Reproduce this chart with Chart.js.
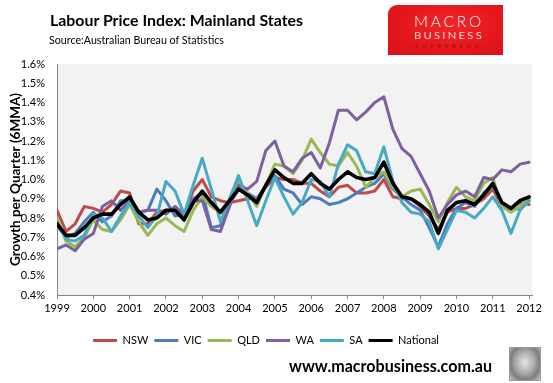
<!DOCTYPE html>
<html><head><meta charset="utf-8">
<script src="https://cdn.jsdelivr.net/npm/chart.js@4/dist/chart.umd.min.js"></script>
<style>
html,body{margin:0;padding:0;background:#fff;width:553px;height:383px;overflow:hidden;}
#wrap{position:relative;width:553px;height:383px;font-family:Lato,"Liberation Sans",sans-serif;}
#c{position:absolute;left:0;top:0;}
.fit{position:absolute;white-space:nowrap;line-height:1;transform-origin:0 0;display:inline-block;}
#title{left:50px;top:12px;font-size:16px;font-weight:bold;color:#000;}
#sub{left:49px;top:34px;font-size:12px;color:#000;}
#foot{left:289px;top:357px;font-size:17px;font-weight:bold;color:#000;}
#logo{position:absolute;left:388px;top:5px;width:115px;height:50px;border-radius:9px 0 0 0;
  background:radial-gradient(ellipse at 55% 40%,#f0262b 0%,#e3161c 60%,#d5131a 100%);}
#logo .fit{color:#fff;}
#m1{left:26px;top:8px;font-size:16px;font-weight:300;letter-spacing:3px;}
#m2{left:26px;top:25px;font-size:10px;letter-spacing:2px;color:#f7d6d6 !important;}
#m3{left:27px;top:38px;font-size:6px;letter-spacing:3px;color:#a30d12 !important;}
#wolf{position:absolute;left:509px;top:347px;width:30px;height:32px;border:1px solid #9a9a9a;
  background:radial-gradient(ellipse at 50% 45%,#e6e6e6 0%,#a9a9a9 45%,#7d7d7d 70%,#c9c9c9 100%);}
</style></head>
<body><div id="wrap">
<canvas id="c" width="553" height="383"></canvas>
<span class="fit" id="title" data-w="253">Labour Price Index: Mainland States</span>
<span class="fit" id="sub" data-w="175">Source:Australian Bureau of Statistics</span>
<div id="logo">
  <span class="fit" id="m1" data-w="70">MACRO</span>
  <span class="fit" id="m2" data-w="70">BUSINESS</span>
  <span class="fit" id="m3" data-w="68">SUPERBLOG</span>
</div>
<span class="fit" id="foot" data-w="203">www.macrobusiness.com.au</span>
<div id="wolf"></div>
</div>
<script>
const quarters = ['1999Q1','1999Q2','1999Q3','1999Q4','2000Q1','2000Q2','2000Q3','2000Q4',
'2001Q1','2001Q2','2001Q3','2001Q4','2002Q1','2002Q2','2002Q3','2002Q4',
'2003Q1','2003Q2','2003Q3','2003Q4','2004Q1','2004Q2','2004Q3','2004Q4',
'2005Q1','2005Q2','2005Q3','2005Q4','2006Q1','2006Q2','2006Q3','2006Q4',
'2007Q1','2007Q2','2007Q3','2007Q4','2008Q1','2008Q2','2008Q3','2008Q4',
'2009Q1','2009Q2','2009Q3','2009Q4','2010Q1','2010Q2','2010Q3','2010Q4',
'2011Q1','2011Q2','2011Q3','2011Q4','2012Q1'];
const yearTicks = [1999,2000,2001,2002,2003,2004,2005,2006,2007,2008,2009,2010,2011,2012];
const yTicks = [0.4,0.5,0.6,0.7,0.8,0.9,1.0,1.1,1.2,1.3,1.4,1.5,1.6];

const nsw = [0.84,0.73,0.77,0.86,0.85,0.83,0.87,0.94,0.93,0.77,0.77,0.83,0.84,0.84,0.81,0.94,1.00,0.91,0.89,0.88,0.89,0.90,0.90,0.96,1.01,1.00,1.00,0.98,0.98,0.94,0.91,0.96,0.97,0.93,0.93,0.94,1.00,0.91,0.90,0.90,0.86,0.81,0.74,0.83,0.85,0.85,0.87,0.90,0.95,0.86,0.85,0.88,0.87];
const vic = [0.76,0.70,0.72,0.78,0.83,0.78,0.81,0.89,0.89,0.83,0.84,0.95,0.89,0.81,0.82,0.90,0.93,0.75,0.76,0.87,0.95,0.93,0.90,0.97,1.02,0.95,0.93,0.87,0.91,0.90,0.87,0.88,0.90,0.93,0.96,0.98,1.03,0.95,0.91,0.87,0.84,0.75,0.65,0.77,0.85,0.88,0.86,0.93,0.97,0.87,0.84,0.85,0.89];
const qld = [0.80,0.68,0.65,0.70,0.79,0.74,0.73,0.79,0.87,0.78,0.71,0.77,0.80,0.76,0.73,0.84,0.91,0.86,0.83,0.89,0.99,0.93,0.86,0.97,1.08,1.07,1.03,1.10,1.21,1.14,1.08,1.07,1.14,1.07,0.96,1.01,1.04,0.96,0.91,0.94,0.95,0.87,0.78,0.88,0.96,0.91,0.89,0.98,1.01,0.86,0.83,0.86,0.90];
const wa  = [0.64,0.66,0.63,0.69,0.72,0.86,0.89,0.84,0.89,0.83,0.84,0.84,0.82,0.86,0.82,0.89,0.89,0.74,0.73,0.86,0.97,0.95,0.99,1.15,1.20,1.07,1.04,1.11,1.14,1.06,1.19,1.36,1.36,1.31,1.35,1.40,1.43,1.26,1.16,1.12,1.03,0.94,0.80,0.87,0.92,0.94,0.91,1.01,1.00,1.05,1.04,1.08,1.09];
const sa  = [0.78,0.69,0.68,0.71,0.82,0.80,0.73,0.81,0.88,0.81,0.75,0.81,0.99,0.94,0.82,0.97,1.11,0.95,0.78,0.90,1.02,0.89,0.76,0.89,1.01,0.91,0.82,0.88,1.00,0.99,0.91,1.08,1.18,1.15,1.04,1.03,1.17,0.99,0.88,0.83,0.82,0.78,0.64,0.74,0.84,0.83,0.80,0.85,0.91,0.84,0.72,0.84,0.89];
const national = [0.77,0.71,0.71,0.75,0.80,0.82,0.82,0.87,0.91,0.83,0.79,0.80,0.84,0.84,0.79,0.88,0.94,0.88,0.83,0.89,0.95,0.92,0.88,0.97,1.05,1.01,0.98,0.98,1.03,0.98,0.95,1.00,1.04,1.01,1.00,1.01,1.09,0.98,0.91,0.90,0.87,0.83,0.72,0.84,0.88,0.89,0.87,0.92,0.98,0.88,0.85,0.89,0.91];

const seriesNames = ['NSW','VIC','QLD','WA','SA','National'];
const seriesData = [nsw, vic, qld, wa, sa, national];
const seriesColors = ['#BE4B48','#4A7EBB','#98B954','#7D60A0','#46AAC5','#000000'];
const seriesWidths = [3,3,3,3,3,3.6];

// fit html text to measured widths
document.querySelectorAll('.fit').forEach(el => {
  const w = el.getBoundingClientRect().width;
  const t = +el.dataset.w;
  el.style.transform = 'scaleX(' + (t / w) + ')';
});

function qx(q){ return parseInt(q.slice(0,4)) + (parseInt(q.slice(5)) - 1) / 4; }

Chart.defaults.font.family = 'Lato, "Liberation Sans", sans-serif';
Chart.defaults.color = '#000';

const bgPlugin = {
  id: 'plotBg',
  beforeDraw(chart){
    const a = chart.chartArea, ctx = chart.ctx;
    ctx.save(); ctx.fillStyle = '#F2F2F2';
    ctx.fillRect(a.left, a.top, a.right - a.left, a.bottom - a.top);
    ctx.restore();
  }
};

const datasets = seriesNames.map((n, i) => ({
  label: n,
  data: quarters.map((q, k) => ({x: qx(q), y: seriesData[i][k]})),
  borderColor: seriesColors[i],
  backgroundColor: seriesColors[i],
  borderWidth: seriesWidths[i],
  pointRadius: 0,
  tension: 0,
  borderJoinStyle: 'round',
  borderCapStyle: 'round',
  order: seriesNames.length - i
}));

new Chart(document.getElementById('c'), {
  type: 'line',
  data: { datasets },
  plugins: [bgPlugin],
  options: {
    responsive: false,
    animation: false,
    events: [],
    layout: { padding: { left: 0, right: 21, top: 64, bottom: 27 } },
    plugins: {
      tooltip: { enabled: false },
      legend: {
        position: 'bottom',
        labels: {
          boxWidth: 24, boxHeight: 3, padding: 6,
          font: { size: 11 },
          color: '#000',
          sort: (a, b) => a.datasetIndex - b.datasetIndex,
          generateLabels(chart){
            const items = Chart.defaults.plugins.legend.labels.generateLabels(chart);
            items.forEach(it => { it.fillStyle = it.strokeStyle; it.lineWidth = 0; });
            return items;
          }
        }
      }
    },
    scales: {
      x: {
        type: 'linear', min: 1999, max: 2012.08,
        afterBuildTicks: s => { s.ticks = yearTicks.map(v => ({value: v})); },
        afterFit: s => { s.height = 34; },
        ticks: { callback: v => String(v), font: { size: 11 }, padding: 3, autoSkip: false, maxRotation: 0 },
        grid: { drawOnChartArea: false, drawTicks: true, tickLength: 4, color: '#868686' },
        border: { display: true, color: '#868686', width: 1 }
      },
      y: {
        min: 0.4, max: 1.6,
        afterBuildTicks: s => { s.ticks = yTicks.map(v => ({value: v})); },
        afterFit: s => { s.width = 57; },
        ticks: { callback: v => v.toFixed(1) + '%', font: { size: 11 }, padding: 12 },
        grid: { drawOnChartArea: false, drawTicks: false, color: '#868686' },
        border: { display: true, color: '#868686', width: 1 },
        title: { display: true, text: 'Growth per Quarter (6MMA)', font: { size: 13.5, weight: 'bold' }, padding: { top: 8, bottom: 0 }, color: '#000' }
      }
    }
  }
});
</script>
</body></html>
